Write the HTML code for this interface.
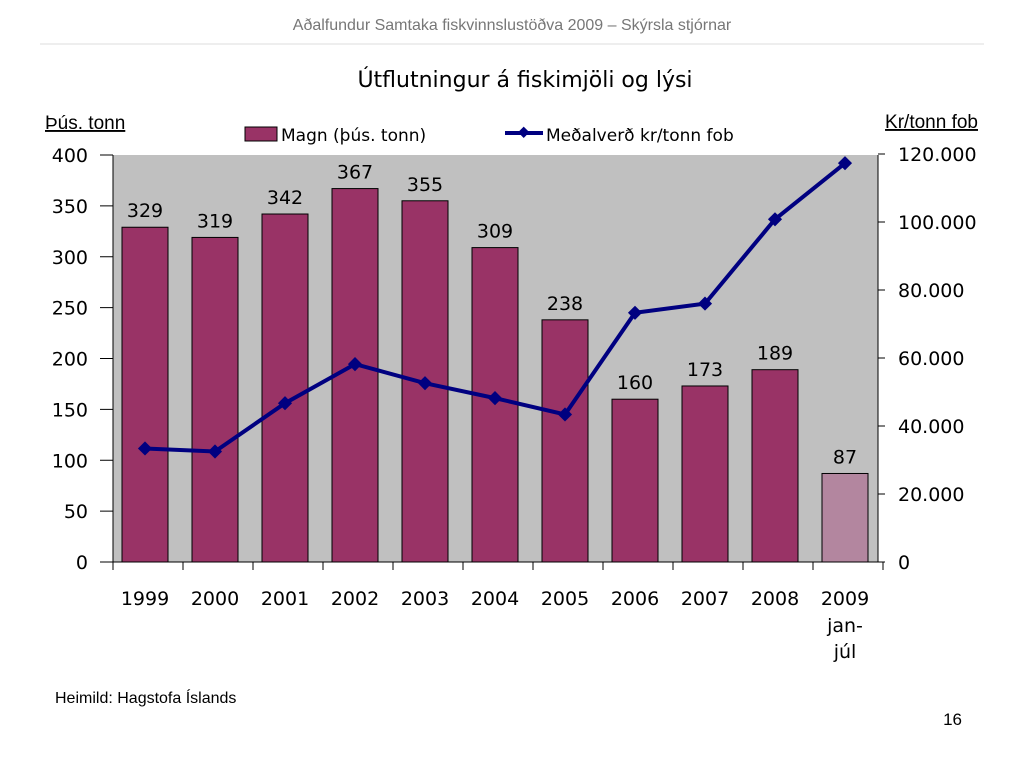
<!DOCTYPE html>
<html><head><meta charset="utf-8"><style>
body{margin:0;width:1024px;height:768px;background:#fff;overflow:hidden;font-family:"DejaVu Sans","Liberation Sans",sans-serif}
</style></head><body>
<svg width="1024" height="768" xmlns="http://www.w3.org/2000/svg">
<text x="512" y="30" text-anchor="middle" font-family="Liberation Sans" font-size="16" fill="#777">Aðalfundur Samtaka fiskvinnslustöðva 2009 – Skýrsla stjórnar</text>
<line x1="40" y1="44" x2="984" y2="44" stroke="#ddd"/>
<text x="525" y="87" text-anchor="middle" font-size="22" fill="#000">Útflutningur á fiskimjöli og lýsi</text>
<text x="45" y="129" font-family="Liberation Sans" font-size="19" text-decoration="underline">Þús. tonn</text>
<text x="978" y="128" text-anchor="end" font-family="Liberation Sans" font-size="19" text-decoration="underline">Kr/tonn fob</text>
<g>
<rect x="245" y="127" width="32" height="14" fill="#993366" stroke="#000"/>
<text x="281" y="141" font-size="17">Magn (þús. tonn)</text>
<line x1="505" y1="133" x2="543" y2="133" stroke="#000080" stroke-width="4"/>
<rect x="519" y="128" width="8" height="8" fill="#000080" transform="rotate(45 523 133)"/>
<text x="546" y="141" font-size="17">Meðalverð kr/tonn fob</text>
</g>
<rect x="113" y="155" width="765" height="407" fill="#c0c0c0"/>
<g id="g"></g>
<text x="55" y="703" font-family="Liberation Sans" font-size="16">Heimild: Hagstofa Íslands</text>
<text x="962" y="725" text-anchor="end" font-family="Liberation Sans" font-size="17">16</text>
</svg>
<script>
const categories=["1999","2000","2001","2002","2003","2004","2005","2006","2007","2008","2009"];
const magn=[329,319,342,367,355,309,238,160,173,189,87];
const verd=[33400,32500,46700,58200,52600,48200,43400,73300,76000,100800,117300];
const leftTicks=[0,50,100,150,200,250,300,350,400];
const rightTicks=[0,20000,40000,60000,80000,100000,120000];
const rightLabels=["0","20.000","40.000","60.000","80.000","100.000","120.000"];
const NS="http://www.w3.org/2000/svg",g=document.getElementById('g');
const x0=110,step=70,yb=562,yt=155;
const xc=i=>x0+step*(i+0.5);
const yl=v=>yb-(v/400)*(yb-yt);
const yr=v=>yb-(v/120000)*(yb-yt+1);
function el(t,a,txt){const e=document.createElementNS(NS,t);for(const k in a)e.setAttribute(k,a[k]);if(txt!==undefined)e.textContent=txt;g.appendChild(e);return e;}
magn.forEach((v,i)=>{
 const r=el('rect',{x:xc(i)-23,y:yl(v),width:46,height:yb-yl(v),fill:i==10?'#b3869f':'#993366',stroke:'#000','stroke-width':1});
 
 
 const t=el('text',{x:xc(i),y:yl(v)-10,'text-anchor':'middle','font-size':19},String(v));
 
 
 const c=el('text',{x:xc(i),y:605,'text-anchor':'middle','font-size':19},categories[i]);
 
 
});
[["jan-",632],["júl",658]].forEach(([s,y])=>{const t=el('text',{x:xc(10),y:y,'text-anchor':'middle','font-size':19},s);
 
 });
let a=el('line',{x1:113,y1:yt,x2:113,y2:yb,stroke:'#000'});
a=el('line',{x1:878,y1:yt,x2:878,y2:yb,stroke:'#000'});
a=el('line',{x1:100,y1:yb,x2:885,y2:yb,stroke:'#000'});
leftTicks.forEach(v=>{el('line',{x1:100,y1:yl(v),x2:113,y2:yl(v),stroke:'#000'});
 const t=el('text',{x:88,y:yl(v)+7,'text-anchor':'end','font-size':19},String(v));
 
 });
rightTicks.forEach((v,i)=>{el('line',{x1:878,y1:yr(v),x2:885,y2:yr(v),stroke:'#000'});
 const t=el('text',{x:898,y:yr(v)+7,'font-size':19},rightLabels[i]);
 
 });
for(let i=0;i<=categories.length;i++)el('line',{x1:x0+step*i+3,y1:yb,x2:x0+step*i+3,y2:yb+8,stroke:'#000'});
const p=el('polyline',{points:verd.map((v,i)=>xc(i)+','+yr(v)).join(' '),fill:'none',stroke:'#000080','stroke-width':4});


verd.forEach((v,i)=>{const m=el('rect',{x:xc(i)-5,y:yr(v)-5,width:10,height:10,fill:'#000080',transform:`rotate(45 ${xc(i)} ${yr(v)})`});
 
 });
</script>
</body></html>
